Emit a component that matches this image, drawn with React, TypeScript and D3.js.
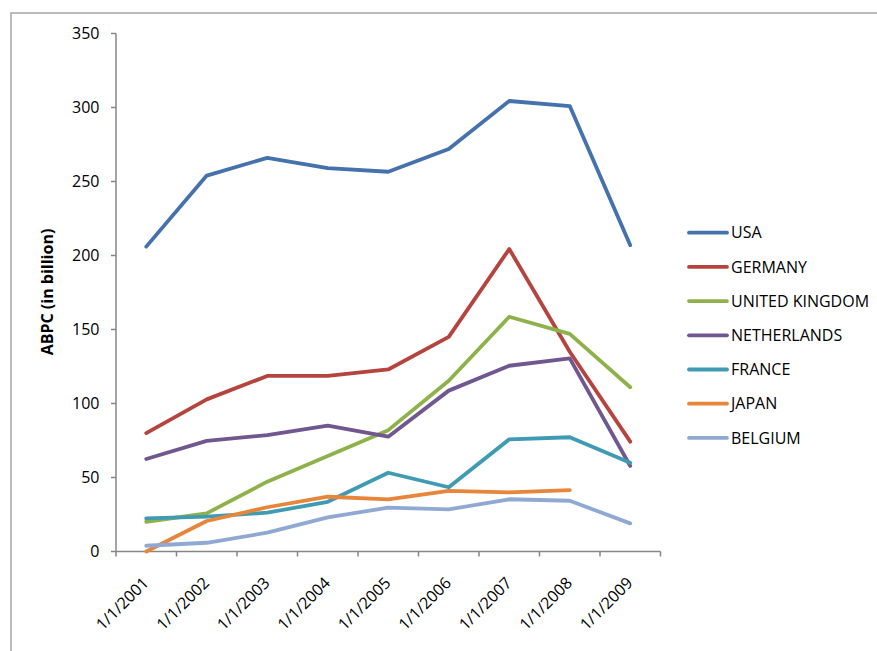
import React from "react";
import * as d3 from "d3";

const years = ["1/1/2001","1/1/2002","1/1/2003","1/1/2004","1/1/2005","1/1/2006","1/1/2007","1/1/2008","1/1/2009"];
const seriesNames = ["USA","GERMANY","UNITED KINGDOM","NETHERLANDS","FRANCE","JAPAN","BELGIUM"];
const usa = [206, 254, 266, 259, 256.6, 272, 304.4, 301, 207];
const germany = [80, 102.8, 118.6, 118.6, 123, 145, 204.4, 135, 74.2];
const uk = [20.1, 25.8, 47.2, 64.5, 82, 115.4, 158.6, 147, 111];
const netherlands = [62.5, 74.7, 78.7, 85, 77.6, 108.7, 125.5, 130.5, 57.8];
const france = [22.4, 23.5, 26.2, 33.6, 53.2, 43.4, 75.8, 77.2, 60];
const japan: (number | null)[] = [0, 20.6, 29.9, 37, 35.2, 40.9, 40, 41.5, null];
const belgium = [3.9, 5.9, 12.7, 23.1, 29.6, 28.5, 35.3, 34.3, 19];
const yTicks = [0, 50, 100, 150, 200, 250, 300, 350];
const colors = ["#4572AD", "#B5443F", "#8EB24A", "#71578F", "#3E9BB3", "#E7853A", "#90A9D3"];

const W = 877, H = 651;

export default function App() {
  const allSeries = [usa, germany, uk, netherlands, france, japan, belgium];
  const x = d3.scaleBand<string>().domain(years).range([116, 660.5]);
  const y = d3.scaleLinear().domain([0, 350]).range([551.5, 33.5]);
  const line = d3.line<number | null>()
    .defined((d) => d !== null)
    .x((_, i) => (x(years[i]) as number) + x.bandwidth() / 2)
    .y((d) => y(d as number));
  const font = "'Open Sans', sans-serif";
  const bandEdges = years.map((yr) => x(yr) as number).concat([x.range()[1]]);
  return (
    <div style={{ position: "fixed", left: 0, top: 0 }}>
      <svg width={W} height={H} style={{ display: "block", background: "#fff" }}>
        <rect x={11} y={13} width={W + 20} height={H + 20} fill="#fff" stroke="#a6a6a6" strokeWidth={1.5} />
        {/* y axis */}
        <line x1={116} x2={116} y1={y(350)} y2={y(0)} stroke="#868686" strokeWidth={1.5} />
        {yTicks.map((t) => (
          <g key={t}>
            <line x1={111} x2={116} y1={y(t)} y2={y(t)} stroke="#868686" strokeWidth={1.5} />
            <text x={99.5} y={y(t)} dy="0.35em" textAnchor="end" fontFamily={font} fontSize={16} fill="#000">{t}</text>
          </g>
        ))}
        <text transform={`translate(53,292) rotate(-90)`} textAnchor="middle" fontFamily={font} fontSize={16} fontWeight="bold" fill="#000">ABPC (in billion)</text>
        {/* x axis */}
        <line x1={116} x2={660.5} y1={y(0)} y2={y(0)} stroke="#868686" strokeWidth={1.5} />
        {bandEdges.map((ex, i) => (
          <line key={i} x1={ex} x2={ex} y1={y(0)} y2={y(0) + 5} stroke="#868686" strokeWidth={1.5} />
        ))}
        {years.map((yr) => {
          const cx = (x(yr) as number) + x.bandwidth() / 2;
          return (
            <text key={yr} transform={`translate(${cx + 3.5},${584}) rotate(-45)`} textAnchor="end" fontFamily={font} fontSize={16} fill="#000">{yr}</text>
          );
        })}
        {/* lines */}
        {allSeries.map((s, i) => (
          <path key={i} d={line(s as (number | null)[]) || ""} fill="none" stroke={colors[i]} strokeWidth={3.8} strokeLinejoin="round" strokeLinecap="round" />
        ))}
        {/* legend */}
        {seriesNames.map((n, i) => {
          const ly = 232.7 + i * 34.2;
          return (
            <g key={n}>
              <line x1={689} x2={727} y1={ly} y2={ly} stroke={colors[i]} strokeWidth={3.8} strokeLinecap="round" />
              <text x={731} y={ly} dy="0.35em" fontFamily={font} fontSize={16} fill="#000">{n}</text>
            </g>
          );
        })}
      </svg>
    </div>
  );
}
